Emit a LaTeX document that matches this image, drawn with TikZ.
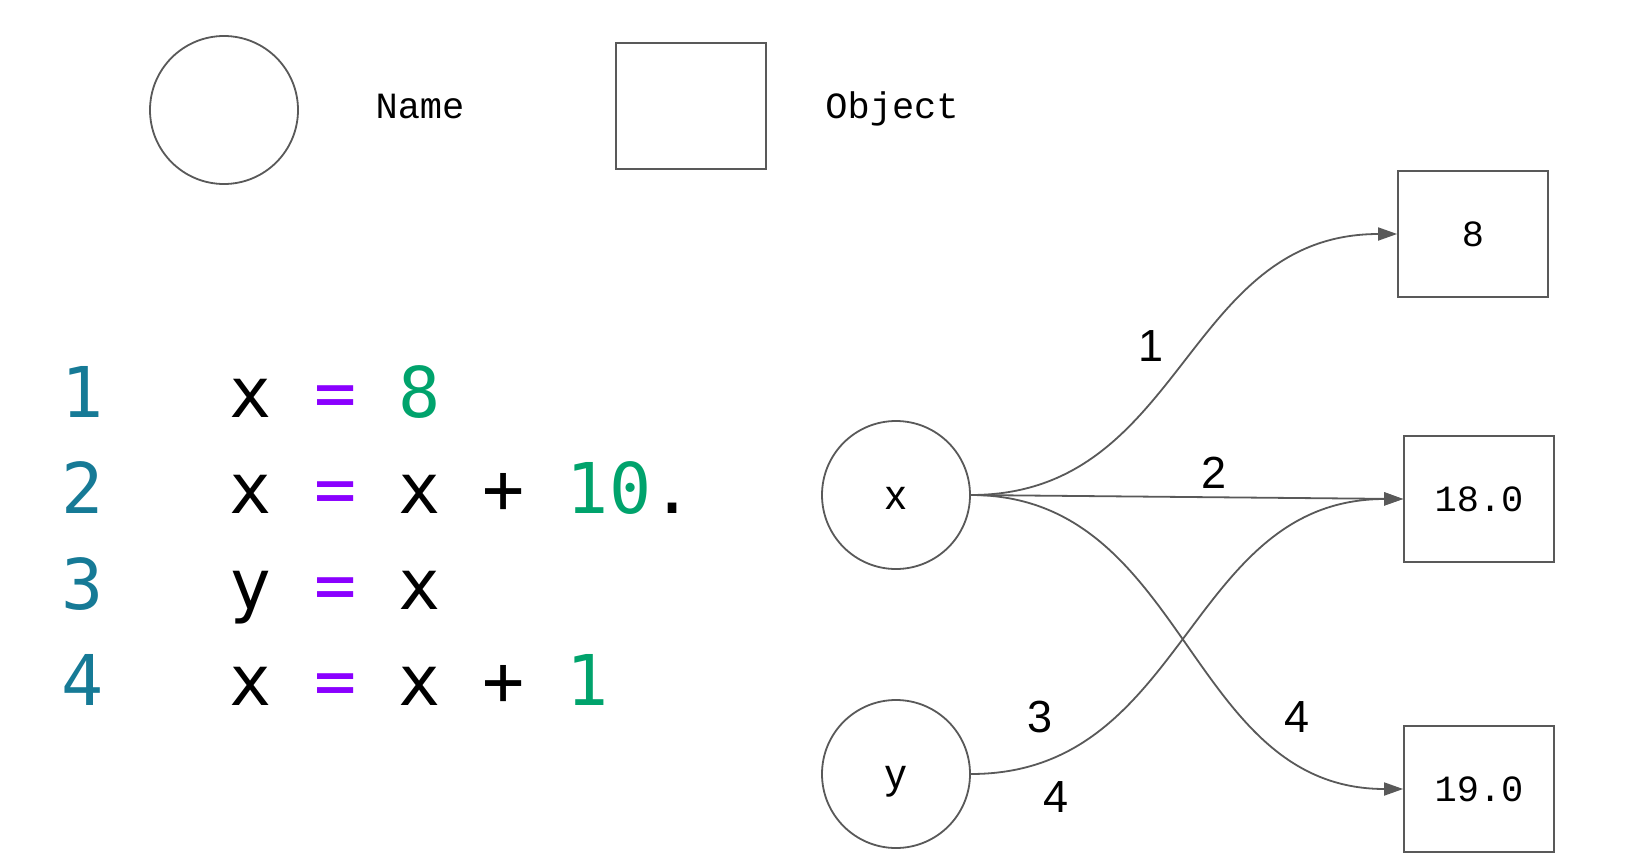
\documentclass[tikz,border=0pt]{standalone}
\usepackage{fontspec}
\setmainfont{Liberation Sans}
\newfontfamily\codefont{DejaVu Sans Mono}
\newfontfamily\monofont{Liberation Mono}
\usetikzlibrary{arrows.meta}
\definecolor{linegray}{HTML}{595959}
\definecolor{numteal}{HTML}{167A96}
\definecolor{oppurple}{HTML}{8A00FF}
\definecolor{litgreen}{HTML}{00A36C}
\begin{document}
\begin{tikzpicture}[x=1pt,y=-1pt,
  namecirc/.style={circle,draw=linegray,line width=1.8pt,minimum size=148pt,inner sep=0pt,font=\fontsize{42}{50}\selectfont,text height=38pt,text depth=8.9pt},
  objbox/.style={rectangle,draw=linegray,line width=1.8pt,minimum width=150pt,minimum height=126pt,inner sep=0pt,font=\monofont\fontsize{37}{44}\selectfont},
  legendtxt/.style={anchor=base,inner sep=0pt,font=\monofont\fontsize{37}{44}\selectfont},
  codeline/.style={anchor=base west,inner sep=0pt,font=\codefont\fontsize{70}{84}\selectfont},
  edgelbl/.style={inner sep=0pt,font=\fontsize{45}{54}\selectfont},
  edge/.style={draw=linegray,line width=1.8pt,-{Triangle[length=19pt,width=13pt]}}]
\useasboundingbox[fill=white] (0,0) rectangle (1627,862);

% legend
\node[namecirc] (legcirc) at (224,110) {};
\node[legendtxt] (legname) at (420,118) {Name};
\node[objbox] (legbox) at (691,106) {};
\node[legendtxt] (legobj) at (892,118) {Object};

% code
\node[codeline] (code1) at (61,417) {\textcolor{numteal}{1}~~~x~\textcolor{oppurple}{=}~\textcolor{litgreen}{8}};
\node[codeline] (code2) at (61,513) {\textcolor{numteal}{2}~~~x~\textcolor{oppurple}{=}~x~+~\textcolor{litgreen}{10}.};
\node[codeline] (code3) at (61,609) {\textcolor{numteal}{3}~~~y~\textcolor{oppurple}{=}~x};
\node[codeline] (code4) at (61,705) {\textcolor{numteal}{4}~~~x~\textcolor{oppurple}{=}~x~+~\textcolor{litgreen}{1}};

% names
\node[namecirc] (nx) at (896,495) {x};
\node[namecirc] (ny) at (896,774) {y};

% objects
\node[objbox] (o8) at (1473,234) {8};
\node[objbox] (o18) at (1479,499) {18.0};
\node[objbox] (o19) at (1479,789) {19.0};

% edges
\draw[edge] (nx.east) .. controls +(214,0) and +(-214,0) .. (o8.west);
\draw[edge] (nx.east) -- (o18.west);
\draw[edge] (ny.east) .. controls +(217,0) and +(-217,0) .. (o18.west);
\draw[edge] (nx.east) .. controls +(217,0) and +(-217,0) .. (o19.west);

% edge labels
\node[edgelbl] (l1) at (1151,346) {1};
\node[edgelbl] (l2) at (1214,473) {2};
\node[edgelbl] (l3) at (1040,717) {3};
\node[edgelbl] (l4a) at (1297,717) {4};
\node[edgelbl] (l4b) at (1056,797) {4};
\end{tikzpicture}
\end{document}
